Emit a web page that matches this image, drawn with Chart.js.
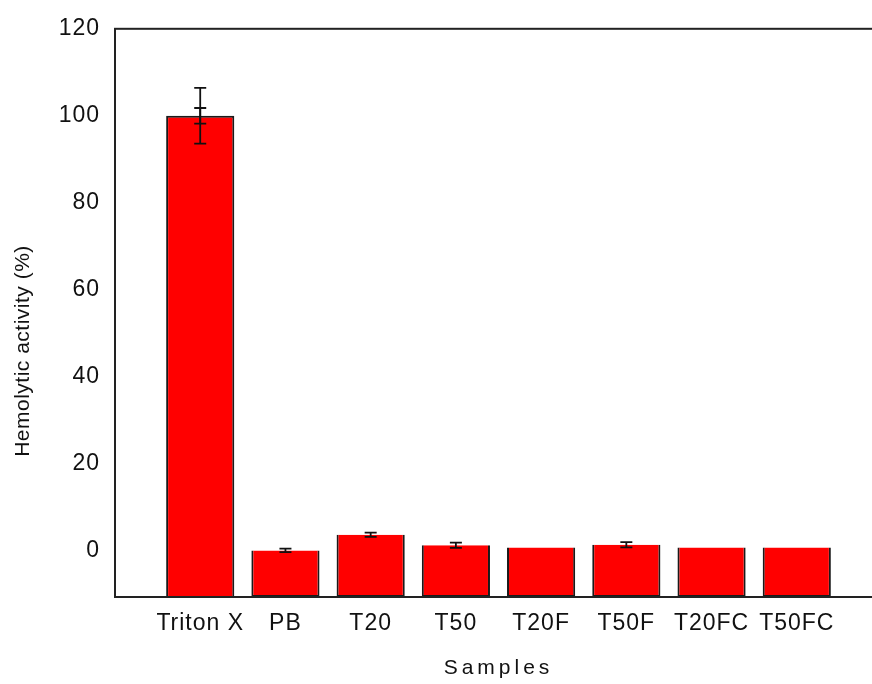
<!DOCTYPE html>
<html>
<head>
<meta charset="utf-8">
<script src="https://cdn.jsdelivr.net/npm/chart.js@4/dist/chart.umd.min.js"></script>
<style>
  html, body { margin: 0; padding: 0; background: #fff; overflow: hidden; }
  #wrap { width: 872px; height: 684px; overflow: hidden; }
  canvas { display: block; }
</style>
</head>
<body>
<div id="wrap"><canvas id="c" width="895" height="684" style="width:895px;height:684px"></canvas></div>
<script>
// Hemolytic activity per sample (%), with two levels of error
const categories = ['Triton X', 'PB', 'T20', 'T50', 'T20F', 'T50F', 'T20FC', 'T50FC'];
const activity   = [100, 0.1, 3.7, 1.3, 0.8, 1.4, 0.8, 0.8];
const errOuter   = [6.4, 0.4, 0.5, 0.6, 0, 0.6, 0, 0];
const errInner   = [1.8, 0, 0, 0, 0, 0, 0, 0];
const yTicks     = [0, 20, 40, 60, 80, 100, 120];

const Y_MIN = -10.6, Y_MAX = 120;

// empty slot on each side so the first bar sits one step in from the axis
const labels = [''].concat(categories, ['']);
const barData = [null].concat(activity.map(v => [Y_MIN, v]), [null]);

const FONT = '"Liberation Sans", Arial, sans-serif';

const framePlugin = {
  id: 'frame',
  beforeDraw(chart) {
    chart.ctx.letterSpacing = '1px';
  },
  afterDatasetsDraw(chart) {
    const ctx = chart.ctx;
    const x = chart.scales.x, y = chart.scales.y;
    ctx.save();
    ctx.strokeStyle = '#111';
    ctx.lineWidth = 1.8;
    activity.forEach((v, i) => {
      const px = x.getPixelForValue(i + 1);
      [errOuter[i], errInner[i]].forEach(e => {
        if (!e) return;
        const yTop = y.getPixelForValue(v + e);
        const yBot = y.getPixelForValue(v - e);
        ctx.beginPath();
        ctx.moveTo(px, yTop); ctx.lineTo(px, yBot);
        ctx.moveTo(px - 6, yTop); ctx.lineTo(px + 6, yTop);
        ctx.moveTo(px - 6, yBot); ctx.lineTo(px + 6, yBot);
        ctx.stroke();
      });
    });
    ctx.restore();
  },
  afterDraw(chart) {
    const ctx = chart.ctx;
    const a = chart.chartArea;
    ctx.save();
    // plot frame
    ctx.strokeStyle = '#222';
    ctx.lineWidth = 2;
    ctx.strokeRect(a.left, a.top, a.right - a.left, a.bottom - a.top);
    // axis titles
    ctx.fillStyle = '#111';
    ctx.textAlign = 'center';
    ctx.textBaseline = 'alphabetic';
    ctx.font = '21px ' + FONT;
    ctx.letterSpacing = '4px';
    ctx.fillText('Samples', (a.left + a.right) / 2, 674);
    ctx.letterSpacing = '0.5px';
    ctx.translate(28.5, 351);
    ctx.rotate(-Math.PI / 2);
    ctx.fillText('Hemolytic activity (%)', 0, 0);
    ctx.restore();
  }
};

const chart = new Chart(document.getElementById('c'), {
  type: 'bar',
  data: {
    labels: labels,
    datasets: [{
      data: barData,
      backgroundColor: '#ff0000',
      borderColor: '#1a1a1a',
      borderWidth: 2,
      borderSkipped: 'start',
      barPercentage: 0.8,
      categoryPercentage: 1
    }]
  },
  options: {
    responsive: false,
    animation: false,
    layout: { padding: { top: 27, left: 0, right: 0, bottom: 0 } },
    plugins: { legend: { display: false }, tooltip: { enabled: false } },
    scales: {
      x: {
        type: 'category',
        offset: false,
        grid: { display: false, drawTicks: false, offset: false },
        border: { display: false },
        ticks: {
          color: '#111',
          font: { family: FONT, size: 23 },
          padding: 13,
          maxRotation: 0,
          autoSkip: false
        },
        afterFit(s) { s.height = 87; }
      },
      y: {
        min: Y_MIN,
        max: Y_MAX,
        grid: { display: false, drawTicks: false },
        border: { display: false },
        ticks: {
          color: '#111',
          font: { family: FONT, size: 23 },
          padding: 15
        },
        afterBuildTicks(s) { s.ticks = yTicks.map(v => ({ value: v })); },
        afterFit(s) { s.width = 115; }
      }
    }
  },
  plugins: [framePlugin]
});
</script>
</body>
</html>
